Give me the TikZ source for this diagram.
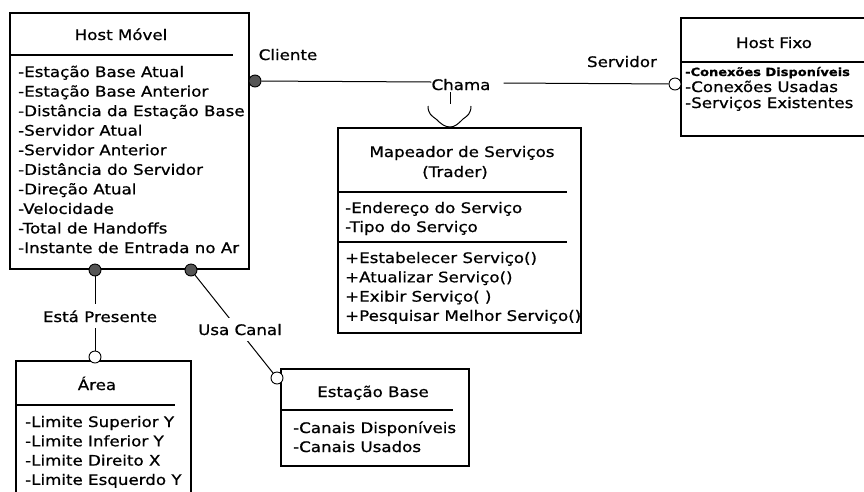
\documentclass[tikz,border=0pt]{standalone}
\usepackage{fontspec}
\newfontfamily\umlfont[FakeStretch=1.15, FakeBold=0.8]{DejaVu Sans}
\usepackage{tikz}
\usetikzlibrary{calc, positioning}

\definecolor{bolacheia}{RGB}{85,85,85}

\tikzset{
  classe/.style={draw, line width=1.6pt, anchor=north west, inner sep=0pt},
  divisa/.style={line width=1.2pt},
  titulo/.style={anchor=base, inner sep=0pt, font=\umlfont\fontsize{14.5}{17}\selectfont},
  atrib/.style={anchor=base west, inner sep=0pt, font=\umlfont\fontsize{14.5}{17}\selectfont},
  rotulo/.style={anchor=base, fill=white, inner xsep=2pt, inner ysep=6pt, font=\umlfont\fontsize{14.5}{17}\selectfont},
  liga/.style={line width=1pt},
  cheia/.style={circle, draw, line width=0.9pt, fill=bolacheia, minimum size=12pt, inner sep=0pt},
  vazia/.style={circle, draw, line width=0.9pt, fill=white, minimum size=12pt, inner sep=0pt},
}

\begin{document}
\begin{tikzpicture}[x=1pt, y=-1pt]
    \useasboundingbox (0,0) rectangle (864,491);
    \clip (0,0) rectangle (864,491);

    % Host Movel
    \node[classe, minimum width=239pt, minimum height=256pt] (hm) at (9,12) {};
    \node[titulo] (hm-t) at (121,40) {Host Móvel};
    \draw[divisa] (hm.west |- 0,55) -- (233,55);
    \foreach \t [count=\i from 0] in {-Estação Base Atual, -Estação Base Anterior,
        -Distância da Estação Base, -Servidor Atual, -Servidor Anterior,
        -Distância do Servidor, -Direção Atual, -Velocidade, -Total de Handoffs,
        -Instante de Entrada no Ar}
        \node[atrib] (hm-\i) at (18,{77+19.56*\i}) {\t};

    % Host Fixo (corta na borda direita)
    \node[classe, minimum width=200pt, minimum height=118pt] (hf) at (680,17) {};
    \node[titulo] (hf-t) at (774,48) {Host Fixo};
    \draw[divisa] (hf.west |- 0,62) -- (870,62);
    \node[atrib, font=\umlfont\bfseries\fontsize{11.3}{14}\selectfont] (hf-0) at (685,76) {-Conexões Disponíveis};
    \node[atrib] (hf-1) at (685,92) {-Conexões Usadas};
    \node[atrib] (hf-2) at (685,108) {-Serviços Existentes};

    % Mapeador de Servicos
    \node[classe, minimum width=243pt, minimum height=205pt] (map) at (337,127) {};
    \node[titulo] (map-t1) at (462,157) {Mapeador de Serviços};
    \node[titulo] (map-t2) at (455,177) {(Trader)};
    \draw[divisa] (map.west |- 0,192) -- (567,192);
    \node[atrib] (map-a0) at (345,213) {-Endereço do Serviço};
    \node[atrib] (map-a1) at (345,232) {-Tipo do Serviço};
    \draw[divisa] (map.west |- 0,242) -- (567,242);
    \foreach \t [count=\i from 0] in {{+Estabelecer Serviço()}, {+Atualizar Serviço()},
        {+Exibir Serviço( )}, {+Pesquisar Melhor Serviço()}}
        \node[atrib] (map-m\i) at (345,{263+19.3*\i}) {\t};

    % Area (corta na borda de baixo)
    \node[classe, minimum width=175pt, minimum height=140pt] (area) at (15,360) {};
    \node[titulo] (area-t) at (97,390) {Área};
    \draw[divisa] (area.west |- 0,405) -- (175,405);
    \foreach \t [count=\i from 0] in {-Limite Superior Y, -Limite Inferior Y,
        -Limite Direito X, -Limite Esquerdo Y}
        \node[atrib] (area-\i) at (25,{427+19.3*\i}) {\t};

    % Estacao Base
    \node[classe, minimum width=188pt, minimum height=97pt] (eb) at (280,368) {};
    \node[titulo] (eb-t) at (373,397) {Estação Base};
    \draw[divisa] (eb.west |- 0,410) -- (453,410);
    \node[atrib] (eb-0) at (293,433) {-Canais Disponíveis};
    \node[atrib] (eb-1) at (293,452) {-Canais Usados};

    % Pontas das associacoes
    \node[cheia] (c1) at (255,81) {};
    \node[vazia] (s1) at (675,84) {};
    \node[cheia] (c2) at (95,270) {};
    \node[vazia] (s2) at (95,357) {};
    \node[cheia] (c3) at (191,270) {};
    \node[vazia] (s3) at (277,378) {};

    % Chama (Cliente - Servidor)
    \node[titulo] (chama) at (461,90) {Chama};
    \draw[liga] (c1) -- (chama.west |- 0,82);
    \draw[liga] ([xshift=13pt]chama.east |- 0,83) -- (s1);
    \node[titulo] (cli) at (288,60) {Cliente};
    \node[titulo] (serv) at (622,67) {Servidor};
    \coordinate (tq) at (450,104);
    \draw[liga] (450,92) -- (tq);
    \draw[liga] (428,106) .. controls (428,114) and (432,116) .. (436,119) .. controls (441,124) and (445,127) .. (map.north -| 450,0);
    \draw[liga] (471,106) .. controls (471,114) and (467,116) .. (463,119) .. controls (458,124) and (455,127) .. (map.north -| 450,0);

    % Esta Presente e Usa Canal
    \draw[liga] (c2) -- (s2);
    \node[rotulo] (pres) at (100,322) {Está Presente};
    \draw[liga] (c3) -- (s3);
    \node[rotulo] (canal) at (240,335) {Usa Canal};
\end{tikzpicture}
\end{document}
